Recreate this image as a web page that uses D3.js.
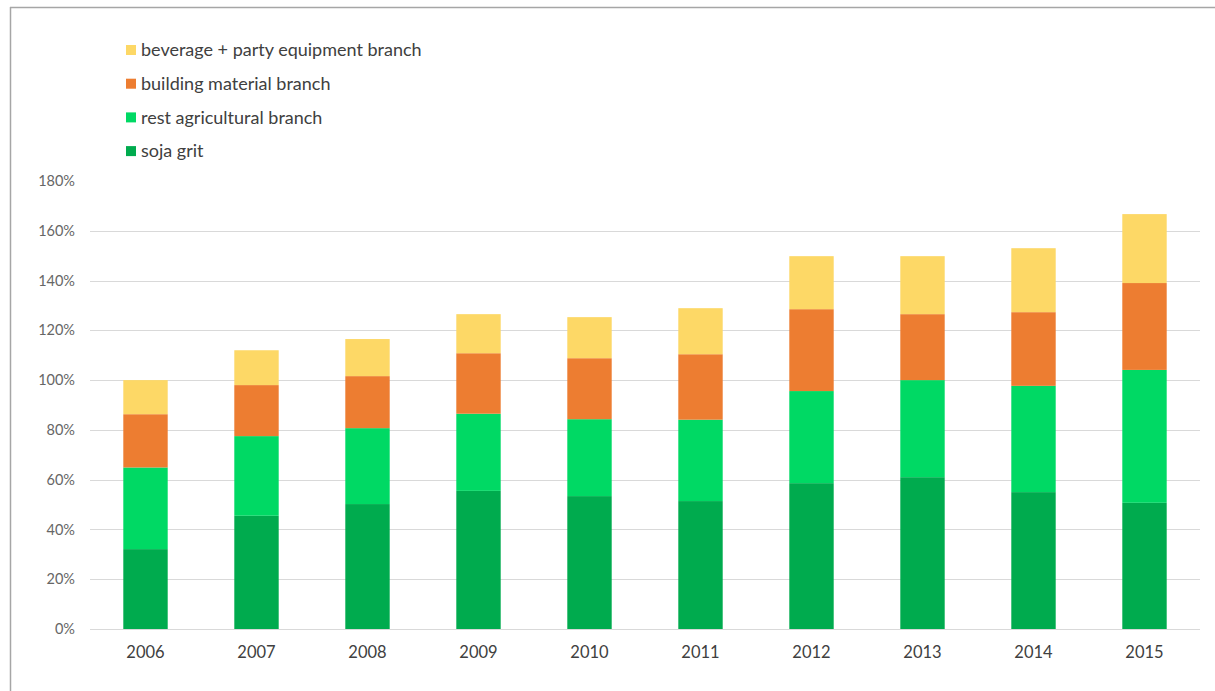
<!DOCTYPE html>
<html>
<head>
<meta charset="utf-8">
<script src="https://cdn.jsdelivr.net/npm/d3@7/dist/d3.min.js"></script>
<style>
  html, body { margin: 0; padding: 0; background: #fff; }
  svg { display: block; }
  text { font-family: Lato, "Open Sans", sans-serif; }
</style>
</head>
<body>
<svg id="chart" width="1215" height="691"></svg>
<script>
// Years on the category axis
const years = ["2006", "2007", "2008", "2009", "2010", "2011", "2012", "2013", "2014", "2015"];

// Share per branch (fraction of the 2006 total), stacked bottom to top
const sojaGrit      = [0.321, 0.455, 0.502, 0.555, 0.534, 0.514, 0.586, 0.610, 0.550, 0.507];
const restAgri      = [0.328, 0.320, 0.305, 0.310, 0.309, 0.327, 0.370, 0.390, 0.427, 0.534];
const buildingMat   = [0.214, 0.205, 0.209, 0.243, 0.245, 0.263, 0.329, 0.265, 0.296, 0.349];
const beverageParty = [0.137, 0.140, 0.149, 0.157, 0.165, 0.185, 0.213, 0.233, 0.257, 0.277];

// Y-axis tick values
const yTicks = [0, 0.2, 0.4, 0.6, 0.8, 1.0, 1.2, 1.4, 1.6, 1.8];

const seriesNames = ["soja grit", "rest agricultural branch", "building material branch", "beverage + party equipment branch"];
const seriesColors = ["#00AB4E", "#00D964", "#ED7D31", "#FDD866"];
const seriesValues = [sojaGrit, restAgri, buildingMat, beverageParty];

const svg = d3.select("#chart");

// Frame lines (top and left)
svg.append("line").attr("x1", 10).attr("x2", 1215).attr("y1", 7.5).attr("y2", 7.5)
  .attr("stroke", "#a6a6a6").attr("stroke-width", 1.5);
svg.append("line").attr("x1", 10.5).attr("x2", 10.5).attr("y1", 7).attr("y2", 691)
  .attr("stroke", "#a6a6a6").attr("stroke-width", 1.5);

const x = d3.scaleBand().domain(years).range([90, 1200]).paddingInner(0.6).paddingOuter(0.3);
const y = d3.scaleLinear().domain([0, 1.8]).range([629, 181]);

// Gridlines
svg.append("g").selectAll("line")
  .data(yTicks.filter(t => t < 1.8))
  .join("line")
  .attr("x1", 90).attr("x2", 1200)
  .attr("y1", d => Math.round(y(d)) + 0.5).attr("y2", d => Math.round(y(d)) + 0.5)
  .attr("stroke", "#d9d9d9").attr("stroke-width", 1);

// Stacked bars
const rows = years.map((yr, i) => {
  const r = { year: yr };
  seriesNames.forEach((n, k) => { r[n] = seriesValues[k][i]; });
  return r;
});
const stacked = d3.stack().keys(seriesNames)(rows);

svg.append("g").selectAll("g")
  .data(stacked)
  .join("g")
  .attr("fill", (d, k) => seriesColors[k])
  .selectAll("rect")
  .data(d => d)
  .join("rect")
  .attr("x", d => x(d.data.year))
  .attr("width", x.bandwidth())
  .attr("y", d => y(d[1]))
  .attr("height", d => y(d[0]) - y(d[1]));

// Y axis labels
const yAxis = d3.axisLeft(y).tickValues(yTicks).tickFormat(d3.format(".0%")).tickSize(0).tickPadding(0);
const gy = svg.append("g").attr("transform", "translate(75,0)").call(yAxis);
gy.select(".domain").remove();
gy.selectAll("text").attr("fill", "#666666").style("font-size", "14.5px").attr("font-family", null);

// X axis labels
const xAxis = d3.axisBottom(x).tickSize(0).tickPadding(0);
const gx = svg.append("g").attr("transform", "translate(0,646)").call(xAxis);
gx.select(".domain").remove();
gx.selectAll("text").attr("fill", "#404040").style("font-size", "16.5px").attr("font-family", null);

// Legend (top series first)
const legendOrder = [3, 2, 1, 0];
const lg = svg.append("g").selectAll("g")
  .data(legendOrder)
  .join("g")
  .attr("transform", (k, i) => `translate(126,${50 + i * 33.7})`);
lg.append("rect").attr("x", 0).attr("y", -5).attr("width", 10).attr("height", 10)
  .attr("fill", k => seriesColors[k]);
lg.append("text").attr("x", 15).attr("dy", "0.35em")
  .attr("fill", "#404040").style("font-size", "18px")
  .text(k => seriesNames[k]);
</script>
</body>
</html>
